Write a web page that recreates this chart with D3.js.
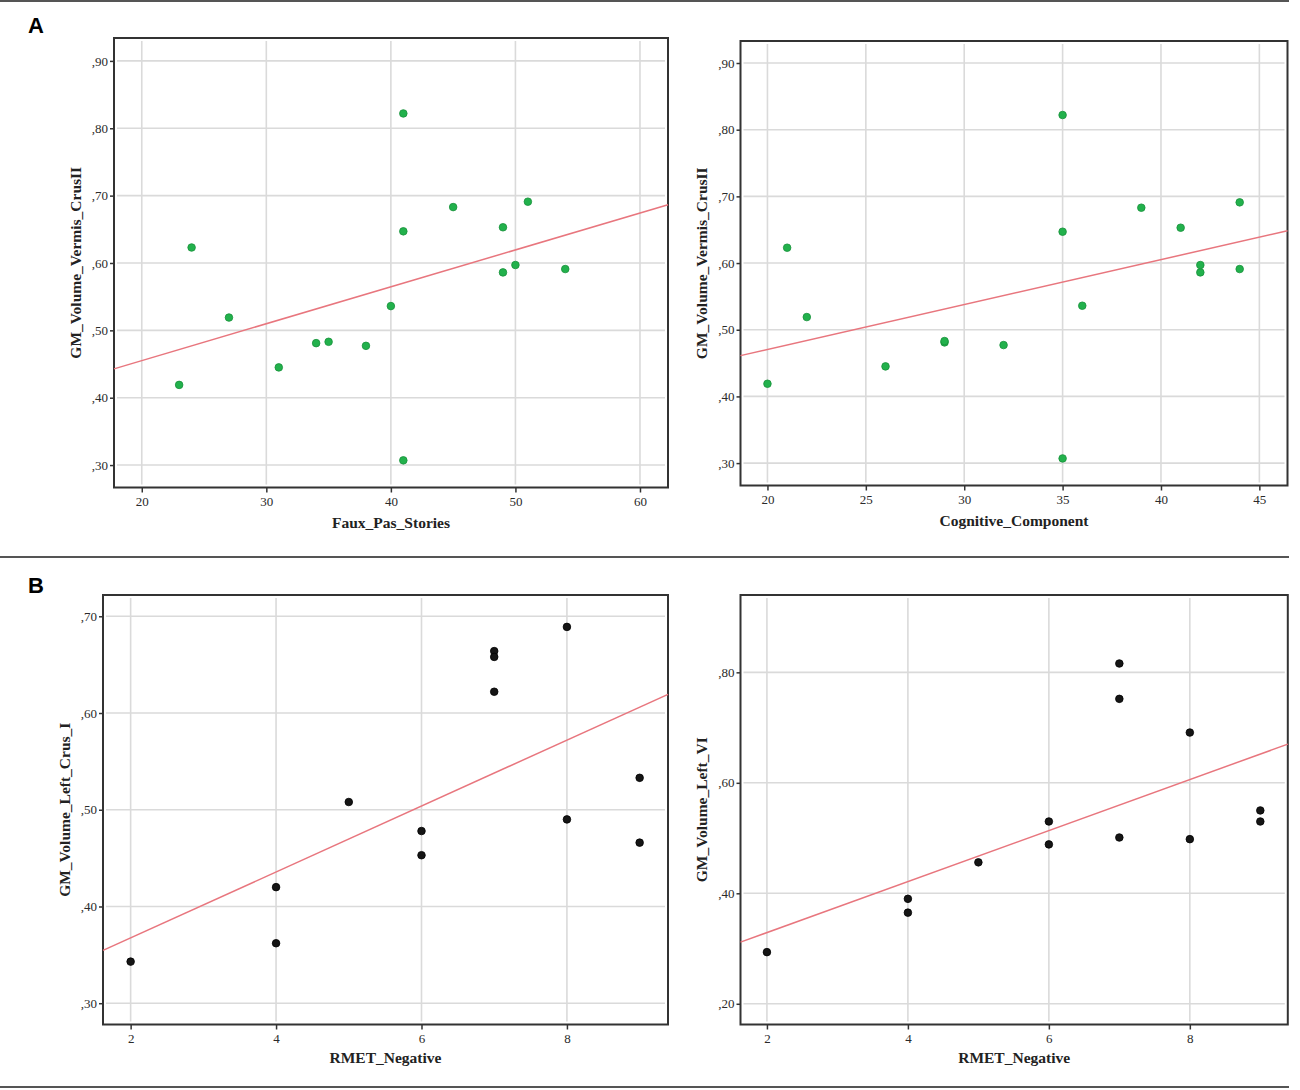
<!DOCTYPE html>
<html>
<head>
<meta charset="utf-8">
<script src="https://cdn.jsdelivr.net/npm/d3@7"></script>
<style>
  body { margin: 0; background: #fff; }
</style>
</head>
<body>
<div id="chart"></div>
<script>
// panel A: same subjects, one y variable
const fauxPasStories = [23, 24, 27, 31, 34, 35, 38, 40, 41, 41, 41, 45, 49, 49, 50, 51, 54];
const cognitiveComponent = [20, 21, 22, 26, 29, 29, 32, 36, 35, 35, 35, 39, 41, 42, 42, 44, 44];
const vermisCrusII = [0.419, 0.623, 0.519, 0.445, 0.481, 0.483, 0.477, 0.536, 0.822, 0.647, 0.307, 0.683, 0.653, 0.586, 0.597, 0.691, 0.591];

// panel B
const rmetNegative = [2, 4, 4, 5, 6, 6, 7, 7, 7, 8, 8, 9, 9];
const leftCrusI = [0.343, 0.420, 0.362, 0.508, 0.478, 0.453, 0.664, 0.658, 0.622, 0.689, 0.490, 0.533, 0.466];
const leftVI = [0.2935, 0.390, 0.365, 0.456, 0.530, 0.4885, 0.816, 0.752, 0.501, 0.691, 0.498, 0.550, 0.530];

const ticksA1x = [20, 30, 40, 50, 60];
const ticksA2x = [20, 25, 30, 35, 40, 45];
const ticksBx = [2, 4, 6, 8];
const ticksAy = [0.3, 0.4, 0.5, 0.6, 0.7, 0.8, 0.9];
const ticksB1y = [0.3, 0.4, 0.5, 0.6, 0.7];
const ticksB2y = [0.2, 0.4, 0.6, 0.8];

const W = 1300, H = 1090;
const svg = d3.select('#chart').append('svg')
  .attr('width', W)
  .attr('height', H);

// horizontal rules between figure parts
[1, 557, 1087].forEach(function(y) {
  svg.append('line')
    .attr('x1', 0).attr('x2', 1289)
    .attr('y1', y).attr('y2', y)
    .attr('stroke', '#555').attr('stroke-width', 2);
});

svg.append('text').attr('x', 28).attr('y', 33).text('A')
  .style('font-family', 'Liberation Sans, Arial, sans-serif')
  .style('font-weight', 'bold').style('font-size', '22px');
svg.append('text').attr('x', 28).attr('y', 593).text('B')
  .style('font-family', 'Liberation Sans, Arial, sans-serif')
  .style('font-weight', 'bold').style('font-size', '22px');

const fmt = function(d) { return d.toFixed(2).replace('0.', ','); };

function regression(xs, ys) {
  const mx = d3.mean(xs), my = d3.mean(ys);
  let sxy = 0, sxx = 0;
  xs.forEach(function(x, i) {
    sxy += (x - mx) * (ys[i] - my);
    sxx += (x - mx) * (x - mx);
  });
  const b = sxy / sxx;
  return function(x) { return my + b * (x - mx); };
}

function panel(p) {
  const x = d3.scaleLinear().domain(p.xDomain).range([p.left, p.right]);
  const y = d3.scaleLinear().domain(p.yDomain).range([p.bottom, p.top]);
  const g = svg.append('g');

  // grid
  g.selectAll('.gx').data(p.xTicks).enter().append('line')
    .attr('x1', d => x(d)).attr('x2', d => x(d))
    .attr('y1', p.top + 3).attr('y2', p.bottom - 3)
    .attr('stroke', '#dadada').attr('stroke-width', 1.6);
  g.selectAll('.gy').data(p.yTicks).enter().append('line')
    .attr('x1', p.left + 3).attr('x2', p.right - 3)
    .attr('y1', d => y(d)).attr('y2', d => y(d))
    .attr('stroke', '#dadada').attr('stroke-width', 1.6);

  // axes
  const xAxis = d3.axisBottom(x).tickValues(p.xTicks).tickSize(5).tickPadding(4);
  const yAxis = d3.axisLeft(y).tickValues(p.yTicks).tickSize(4).tickPadding(2).tickFormat(fmt);
  const ax = g.append('g').attr('transform', 'translate(0,' + p.bottom + ')').call(xAxis);
  const ay = g.append('g').attr('transform', 'translate(' + p.left + ',0)').call(yAxis);
  [ax, ay].forEach(function(a) {
    a.select('.domain').remove();
    a.selectAll('line').attr('stroke', '#333').attr('stroke-width', 1.5);
    a.selectAll('text')
      .style('font-family', 'Liberation Serif, Times New Roman, serif')
      .style('font-size', '13px').attr('fill', '#2a2a2a');
  });

  // frame
  g.append('rect')
    .attr('x', p.left).attr('y', p.top)
    .attr('width', p.right - p.left).attr('height', p.bottom - p.top)
    .attr('fill', 'none').attr('stroke', '#333').attr('stroke-width', 2);

  // fit line
  const fit = regression(p.xs, p.ys);
  g.append('line')
    .attr('x1', x(p.xDomain[0])).attr('y1', y(fit(p.xDomain[0])))
    .attr('x2', x(p.xDomain[1])).attr('y2', y(fit(p.xDomain[1])))
    .attr('stroke', '#e8767e').attr('stroke-width', 1.5);

  // points
  g.selectAll('circle').data(p.xs).enter().append('circle')
    .attr('cx', d => x(d))
    .attr('cy', (d, i) => y(p.ys[i]))
    .attr('r', 3.8)
    .attr('fill', p.color)
    .attr('stroke', p.stroke).attr('stroke-width', 0.8);

  // axis titles
  g.append('text')
    .attr('x', (p.left + p.right) / 2).attr('y', p.xLabelY)
    .attr('text-anchor', 'middle').text(p.xLabel)
    .style('font-family', 'Liberation Serif, Times New Roman, serif')
    .style('font-weight', 'bold').style('font-size', '15.5px').attr('fill', '#222');
  g.append('text')
    .attr('transform', 'translate(' + p.yLabelX + ',' + (p.top + p.bottom) / 2 + ') rotate(-90)')
    .attr('text-anchor', 'middle').text(p.yLabel)
    .style('font-family', 'Liberation Serif, Times New Roman, serif')
    .style('font-weight', 'bold').style('font-size', '15.5px').attr('fill', '#222');
}

panel({
  left: 114, right: 668, top: 38, bottom: 487.5,
  xDomain: [17.77, 62.25], yDomain: [0.2667, 0.934],
  xTicks: ticksA1x, yTicks: ticksAy,
  xs: fauxPasStories, ys: vermisCrusII,
  color: '#22b14c', stroke: '#16913a',
  xLabel: 'Faux_Pas_Stories', xLabelY: 528,
  yLabel: 'GM_Volume_Vermis_CrusII', yLabelX: 81
});
panel({
  left: 740.5, right: 1287.5, top: 41, bottom: 485.5,
  xDomain: [18.63, 46.43], yDomain: [0.2664, 0.933],
  xTicks: ticksA2x, yTicks: ticksAy,
  xs: cognitiveComponent, ys: vermisCrusII,
  color: '#22b14c', stroke: '#16913a',
  xLabel: 'Cognitive_Component', xLabelY: 526,
  yLabel: 'GM_Volume_Vermis_CrusII', yLabelX: 707
});
panel({
  left: 103, right: 668, top: 595, bottom: 1024.5,
  xDomain: [1.62, 9.39], yDomain: [0.278, 0.722],
  xTicks: ticksBx, yTicks: ticksB1y,
  xs: rmetNegative, ys: leftCrusI,
  color: '#151515', stroke: '#000',
  xLabel: 'RMET_Negative', xLabelY: 1063,
  yLabel: 'GM_Volume_Left_Crus_I', yLabelX: 70
});
panel({
  left: 740.5, right: 1287.8, top: 595, bottom: 1024.5,
  xDomain: [1.625, 9.39], yDomain: [0.1625, 0.94],
  xTicks: ticksBx, yTicks: ticksB2y,
  xs: rmetNegative, ys: leftVI,
  color: '#151515', stroke: '#000',
  xLabel: 'RMET_Negative', xLabelY: 1063,
  yLabel: 'GM_Volume_Left_VI', yLabelX: 707
});
</script>
</body>
</html>
